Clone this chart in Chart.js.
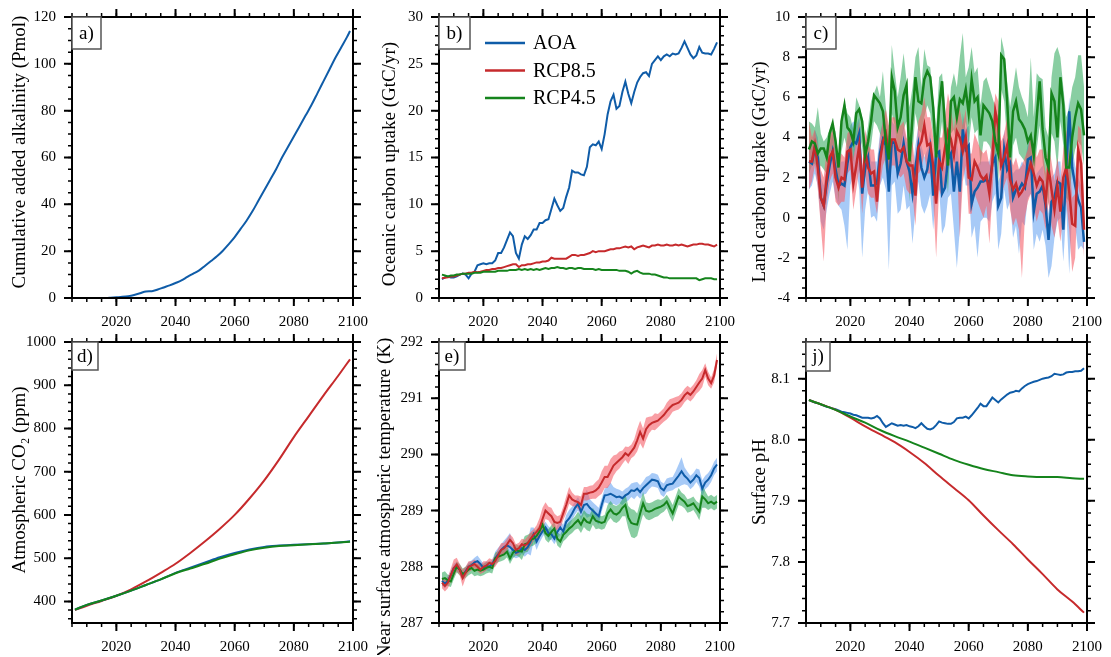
<!DOCTYPE html>
<html>
<head>
<meta charset="utf-8">
<script src="https://cdn.jsdelivr.net/npm/chart.js@4.4.1/dist/chart.umd.min.js"></script>
<style>
  html, body { margin: 0; padding: 0; background: #fff; }
  body { width: 1111px; height: 657px; position: relative; overflow: hidden; }
</style>
</head>
<body>
<script>
// ---- data ----
const years = Array.from({length: 94}, (_, i) => 2006 + i);   // 2006..2099
const xTicks = [2020, 2040, 2060, 2080, 2100];

// a) cumulative added alkalinity (Pmol)
const aYears = [2006, 2010, 2014, 2017, 2018, 2020, 2022, 2024, 2026, 2028, 2030, 2032, 2034, 2036, 2038,
  2040, 2042, 2044, 2046, 2048, 2050, 2052, 2054, 2056, 2058, 2060, 2062, 2064, 2066, 2068, 2070, 2072,
  2074, 2076, 2078, 2080, 2082, 2084, 2086, 2088, 2090, 2092, 2094, 2096, 2098, 2099];
const aAlk = [0, 0, 0, 0, 0.1, 0.3, 0.5, 0.8, 1.3, 2.0, 2.8, 2.9, 3.6, 4.5, 5.4,
  6.4, 7.5, 9.0, 10.4, 11.8, 13.8, 15.8, 17.8, 20.2, 23.0, 26.0, 29.5, 33.0, 37.0, 41.5, 46.0, 50.5,
  55.0, 60.0, 64.5, 69.0, 73.5, 78.0, 82.5, 87.5, 92.5, 97.5, 102.5, 107.0, 111.5, 114.0];
const aTicks = [0, 20, 40, 60, 80, 100, 120];

// b) oceanic carbon uptake (GtC/yr)
const bAoa = [
  2.0, 2.2, 2.3, 2.2, 2.2, 2.3, 2.5, 2.6, 2.5, 2.1,
  2.6, 2.8, 3.5, 3.6, 3.7, 3.6, 3.7, 3.7, 4.0, 4.8,
  4.8, 5.4, 6.2, 7.0, 6.6, 4.8, 4.2, 5.7, 6.6, 6.3,
  6.7, 7.3, 7.3, 8.0, 8.0, 8.3, 8.4, 9.5, 10.6, 9.9,
  9.3, 9.6, 10.8, 11.8, 13.6, 13.4, 13.4, 13.2, 13.1, 14.0,
  16.1, 16.4, 16.3, 16.7, 15.9, 17.5, 19.6, 21.0, 21.7, 20.2,
  20.5, 22.0, 23.1, 21.8, 20.8, 22.0, 23.0, 23.6, 24.0, 24.1,
  23.7, 25.0, 25.4, 25.8, 25.4, 25.8, 26.0, 25.8, 26.1, 26.0,
  26.1, 26.7, 27.4, 26.7, 26.0, 25.6, 25.9, 26.8, 26.2, 26.1,
  26.1, 26.0, 26.6, 27.3];
const bRcp85 = [
  2.1, 2.15, 2.2, 2.3, 2.3, 2.4, 2.5, 2.6, 2.6, 2.7,
  2.7, 2.8, 2.75, 2.8, 2.9, 3.0, 3.0, 3.1, 3.1, 3.2,
  3.2, 3.3, 3.4, 3.5, 3.6, 3.6, 3.3, 3.5, 3.5, 3.6,
  3.6, 3.7, 3.8, 3.8, 3.9, 3.9, 4.0, 4.3, 4.2, 4.2,
  4.2, 4.2, 4.2, 4.4, 4.6, 4.6, 4.5, 4.6, 4.6, 4.7,
  4.8, 5.0, 4.9, 5.0, 5.0, 5.0, 5.1, 5.2, 5.2, 5.3,
  5.3, 5.4, 5.5, 5.4, 5.5, 5.2, 5.4, 5.5, 5.6, 5.5,
  5.4, 5.6, 5.6, 5.7, 5.6, 5.6, 5.7, 5.6, 5.6, 5.7,
  5.6, 5.7, 5.6, 5.5, 5.6, 5.7, 5.7, 5.8, 5.8, 5.7,
  5.7, 5.6, 5.5, 5.7];
const bRcp45 = [
  2.5, 2.4, 2.3, 2.4, 2.4, 2.5, 2.5, 2.6, 2.6, 2.6,
  2.6, 2.7, 2.7, 2.7, 2.8, 2.8, 2.8, 2.8, 2.8, 2.9,
  2.9, 2.9, 2.9, 3.0, 3.0, 3.0, 3.1, 3.0, 3.1, 3.0,
  3.1, 3.0, 3.1, 3.0, 3.1, 3.2, 3.1, 3.2, 3.2, 3.3,
  3.2, 3.2, 3.1, 3.2, 3.2, 3.1, 3.2, 3.2, 3.1, 3.1,
  3.1, 3.1, 3.0, 3.1, 3.0, 3.0, 3.0, 3.0, 3.0, 3.0,
  2.9, 2.9, 2.9, 2.8, 2.6, 2.8, 2.9, 2.7, 2.6, 2.6,
  2.6, 2.5, 2.5, 2.4, 2.3, 2.2, 2.2, 2.1, 2.1, 2.1,
  2.1, 2.1, 2.1, 2.1, 2.1, 2.1, 2.1, 1.9, 2.0, 2.1,
  2.1, 2.1, 2.0, 2.0];
const bTicks = [0, 5, 10, 15, 20, 25, 30];

// c) land carbon uptake (GtC/yr): ensemble mean and spread
const cAoa = [
  2.8, 2.7, 3.5, 3.0, 1.0, 0.6, 1.7, 2.6, 3.3, 2.4,
  1.6, 1.7, 1.6, 2.7, 3.5, 3.8, 3.7, 4.2, 1.2, 2.5,
  3.0, 1.6, 1.6, 1.7, 3.2, 3.9, 3.6, 1.3, 3.8, 3.7,
  2.2, 2.7, 3.7, 2.8, 2.3, 1.2, 2.5, 3.6, 2.5, 2.0,
  2.4, 3.4, 1.1, 3.2, 3.3, 1.2, 1.5, 2.9, 3.2, 1.3,
  2.8, 1.3, 4.4, 3.4, 3.6, 0.7, 1.3, 1.5, 1.8, 1.8,
  1.9, 1.7, 2.7, 3.0, 0.6, 1.0, 3.4, 2.4, 2.7, 1.0,
  1.4, 1.4, 1.7, 1.5, 2.9, 3.0, 0.3, 1.2, 1.3, 1.6,
  0.6, -1.1, 0.8, 1.0, 1.8, 1.7, -0.6, 2.5, 5.3, 2.5,
  1.6, 0.9, 0.5, -1.2];
const cAoaHi = [
  3.8, 3.6, 4.4, 4.0, 2.0, 1.6, 2.6, 3.6, 4.2, 3.4,
  2.6, 2.8, 2.8, 3.8, 4.6, 4.8, 4.6, 5.0, 2.4, 3.6,
  4.0, 2.8, 2.8, 2.8, 4.2, 4.8, 4.6, 2.6, 4.8, 4.6,
  3.2, 3.8, 4.6, 3.8, 3.4, 2.4, 3.6, 4.6, 3.6, 3.0,
  3.4, 4.4, 2.2, 4.2, 4.4, 2.4, 2.6, 4.0, 4.2, 2.4,
  3.8, 2.4, 5.2, 4.4, 4.6, 1.8, 2.4, 2.6, 2.8, 2.8,
  2.8, 2.8, 3.8, 4.0, 1.8, 2.2, 4.4, 3.4, 3.8, 2.2,
  2.4, 2.4, 2.8, 2.6, 3.8, 4.0, 1.4, 2.2, 2.4, 2.6,
  1.6, 0.2, 2.0, 2.2, 2.8, 2.8, 0.6, 3.6, 6.0, 3.6,
  2.6, 2.0, 1.6, 0.2];
const cAoaLo = [
  1.4, 1.6, 2.2, 1.6, -0.2, -0.6, 0.4, 1.2, 1.8, 1.0,
  0.6, 0.4, -0.4, -1.6, 1.6, 2.2, 2.4, 1.4, -2.0, 0.4,
  1.4, 0.0, 0.1, -0.2, 1.6, 2.0, 1.4, -2.6, 1.6, 1.8,
  0.2, 0.4, 1.6, 0.4, 0.6, -1.3, 0.4, 1.8, 0.6, 0.2,
  0.6, 1.2, -0.6, 1.2, 1.4, -0.8, -0.4, 1.0, 1.2, -0.6,
  -2.5, -0.6, 2.6, 1.6, 1.6, -1.0, -0.4, -2.0, -0.2, 0.0,
  0.0, -0.2, 0.8, 1.2, -1.6, -0.8, 1.4, 0.4, 0.8, -1.0,
  -0.4, -1.8, -0.2, -0.4, 1.0, 1.2, -1.6, -0.8, -1.2, -0.6,
  -1.4, -3.0, -2.4, -1.0, -0.2, 0.0, -2.2, 0.4, -2.8, 0.4,
  -0.4, -1.6, -1.4, -1.6];
const cRcp85 = [
  2.8, 2.8, 3.6, 2.5, 1.0, 0.6, 2.0, 3.0, 3.3, 2.0,
  1.5, 2.0, 1.9, 3.3, 3.4, 1.7, 2.6, 3.6, 1.5, 3.3,
  2.5, 2.2, 2.3, 0.8, 2.8, 3.8, 4.2, 3.2, 3.9, 3.9,
  3.4, 3.3, 3.5, 2.8, 2.6, 2.6, 1.1, 3.5, 3.8, 4.6,
  3.6, 3.7, 2.6, 0.7, 2.8, 2.5, 3.5, 4.3, 3.9, 3.1,
  4.3, 4.0, 3.3, 4.0, 2.0, 1.9, 2.8, 2.5, 2.1, 1.9,
  2.1, 1.2, 2.8, 5.3, 4.5, 2.6, 3.0, 3.6, 1.9, 1.4,
  1.7, 1.1, 1.3, 1.6, 2.2, 2.7, 2.2, 1.6, 2.0, 1.8,
  0.8, 2.5, 1.4, 0.4, 1.6, 0.3, 2.0, 2.5, 1.3, -0.3,
  -0.4, 3.4, 2.7, -0.6];
const cRcp85Hi = [
  4.8, 4.0, 4.4, 3.6, 2.4, 2.0, 3.4, 4.0, 4.4, 3.2,
  2.8, 3.2, 3.0, 4.2, 4.4, 3.0, 3.8, 4.8, 2.6, 4.4,
  3.6, 3.4, 3.4, 2.0, 4.0, 4.8, 5.4, 4.6, 5.0, 5.0,
  4.6, 4.6, 4.8, 4.0, 3.8, 3.8, 2.4, 4.8, 5.2, 6.0,
  5.0, 5.0, 4.0, 2.0, 4.0, 4.0, 5.0, 6.2, 5.4, 4.4,
  5.6, 5.4, 4.6, 5.4, 3.2, 3.2, 4.2, 3.8, 3.4, 3.2,
  3.4, 2.6, 4.2, 6.2, 5.8, 3.8, 4.2, 5.0, 3.2, 2.6,
  3.0, 2.4, 2.6, 3.0, 3.4, 4.2, 3.6, 3.0, 3.4, 3.4,
  2.2, 3.6, 2.8, 1.8, 3.0, 1.8, 3.4, 4.4, 3.0, 1.0,
  1.2, 4.6, 4.4, 0.8];
const cRcp85Lo = [
  1.4, 1.8, 2.6, 1.4, -0.4, -2.2, 0.8, 1.8, 2.2, 0.8,
  0.6, 0.8, 0.8, 2.2, 2.4, 0.4, 1.4, 2.4, 0.2, 2.2,
  1.2, 1.0, 1.0, 0.2, 1.6, 2.6, 3.0, 1.8, 2.6, 2.6,
  2.2, 2.0, 2.2, 1.4, 1.2, 1.2, -0.4, 2.2, 2.4, 3.2,
  2.2, 2.2, 1.0, -2.0, 1.4, 1.0, 2.0, 2.8, 2.4, 1.6,
  2.8, -1.0, 1.8, 2.6, 0.2, 0.2, 1.2, 0.8, 0.4, 0.0,
  0.6, -1.3, 1.2, 3.8, 3.0, 1.0, 1.6, 2.0, 0.4, -0.4,
  0.0, -0.6, -3.0, 0.0, 0.8, 1.2, 0.6, -0.2, 0.4, 0.2,
  -0.6, 0.8, -0.4, -1.0, 0.0, -1.2, 0.2, 0.8, -0.6, -2.7,
  -2.0, 1.6, 0.8, -2.0];
const cRcp45 = [
  3.4, 3.8, 3.7, 3.2, 3.45, 3.45, 3.0, 4.2, 4.7, 3.8,
  2.5, 4.8, 5.6, 4.5, 4.3, 3.8, 5.2, 5.4, 4.8, 3.1,
  3.8, 4.8, 6.1, 5.9, 5.7, 5.3, 3.8, 2.9, 7.0, 6.3,
  4.5, 5.0, 6.1, 6.6, 2.8, 5.0, 7.0, 5.8, 5.7, 6.9,
  7.3, 7.0, 5.5, 3.0, 5.5, 6.8, 4.5, 2.6, 5.8, 6.0,
  5.0, 5.9, 5.7, 6.4, 5.2, 6.9, 5.8, 6.0, 4.1, 5.6,
  5.4, 5.2, 4.8, 3.8, 3.2, 8.1, 7.9, 5.8, 3.0, 5.3,
  5.8, 4.9, 4.7, 4.4, 3.8, 4.1, 3.1, 5.0, 6.8, 4.4,
  3.0, 2.5, 6.2, 5.8, 4.0, 7.0, 5.6, 2.5, 2.5, 4.0,
  5.0, 5.7, 5.4, 4.1];
const cRcp45Hi = [
  4.8, 4.7, 4.5, 5.5, 4.2, 3.8, 4.0, 4.4, 4.7, 4.3,
  3.0, 5.0, 5.8, 5.2, 5.0, 4.4, 6.0, 5.6, 5.0, 3.8,
  4.6, 5.8, 6.2, 6.6, 6.0, 7.3, 5.5, 4.0, 8.6, 7.3,
  6.0, 7.0, 8.2, 6.8, 5.5, 6.5, 8.0, 8.5, 6.5, 8.4,
  7.6, 7.5, 6.0, 4.5, 7.0, 7.2, 5.5, 4.0, 6.5, 7.2,
  6.5, 8.0, 9.2, 7.0, 7.5, 8.5, 7.2, 7.5, 5.6, 6.8,
  7.0, 6.5, 6.0, 5.5, 5.0, 9.0, 8.3, 6.8, 5.5, 6.5,
  7.5, 6.5, 6.0, 5.6, 5.0, 8.0, 5.0, 7.2, 7.0, 6.9,
  4.5, 4.0, 7.0, 8.2, 8.5, 8.0, 6.5, 5.0, 5.5, 6.5,
  7.0, 8.1, 8.1, 6.5];
const cRcp45Lo = [
  2.2, 2.6, 2.7, 2.4, 2.6, 2.4, 2.2, 3.2, 3.5, 2.6,
  0.8, 3.3, 4.0, 3.4, 3.3, 2.8, 3.8, 4.2, 3.5, 2.0,
  2.8, 3.6, 4.8, 4.6, 4.2, 3.8, 2.4, 1.8, 5.2, 4.6,
  3.2, 3.6, 4.4, 4.8, 0.8, 3.2, 5.2, 4.4, 4.2, 5.0,
  5.6, 5.2, 4.0, 1.8, 3.6, 4.8, 3.0, 1.2, 4.2, 4.4,
  3.6, 4.2, 3.8, 4.8, 3.6, 5.0, 4.2, 4.4, 2.6, 3.8,
  3.8, 3.6, 3.2, 2.4, 1.6, 6.4, 5.8, 3.8, 0.6, 3.6,
  4.0, 3.2, 3.0, 2.8, 2.2, 2.8, 1.6, 3.4, 4.6, 2.8,
  1.6, 0.6, 4.2, 3.8, 2.4, 4.8, 3.6, 1.0, 0.8, 2.6,
  3.4, 3.8, 3.6, 2.6];
const cTicks = [-4, -2, 0, 2, 4, 6, 8, 10];

// d) atmospheric CO2 (ppm)
const dYears = [2006, 2010, 2015, 2020, 2025, 2030, 2035, 2040, 2045, 2050, 2055, 2060, 2065, 2070, 2075, 2080, 2085, 2090, 2095, 2099];
const dAoa   = [381, 392, 402, 413, 425, 438, 451, 466, 478, 490, 502, 512, 520, 526, 529, 531, 532, 534, 536, 539];
const dRcp85 = [380, 390, 401, 413, 428, 446, 466, 487, 512, 539, 568, 600, 638, 680, 728, 780, 828, 876, 922, 960];
const dRcp45 = [381, 392, 402, 413, 425, 438, 451, 465, 476, 487, 499, 509, 518, 524, 528, 530, 532, 534, 536, 538];
const dTicks = [400, 500, 600, 700, 800, 900, 1000];

// e) near surface atmospheric temperature (K): mean and half spread
const eAoa = [
  287.75, 287.7, 287.75, 287.85, 287.98, 288.0, 287.95, 287.85, 287.92, 288.0,
  288.03, 288.08, 288.1, 288.05, 287.98, 288.02, 288.0, 288.05, 288.15, 288.22,
  288.3, 288.35, 288.38, 288.35, 288.3, 288.25, 288.27, 288.33, 288.3, 288.35,
  288.45, 288.58, 288.45, 288.55, 288.63, 288.7, 288.6, 288.58, 288.5, 288.62,
  288.7, 288.63, 288.8, 288.86, 288.95, 289.05, 289.12, 288.98, 289.1, 289.12,
  289.05, 289.0, 288.95, 288.9, 289.1, 289.27, 289.28, 289.3, 289.27, 289.24,
  289.25, 289.22, 289.27, 289.3, 289.36, 289.35, 289.39, 289.33, 289.4, 289.45,
  289.5, 289.55, 289.54, 289.52, 289.4, 289.36, 289.45, 289.47, 289.48, 289.55,
  289.62, 289.7, 289.62, 289.57, 289.5, 289.55, 289.63, 289.58, 289.39, 289.5,
  289.55, 289.63, 289.75, 289.82];
const eRcp85 = [
  287.72, 287.66, 287.72, 287.85, 287.98, 288.04, 287.95, 287.8, 287.9, 288.0,
  288.02, 288.05, 288.0, 287.95, 288.0, 288.02, 288.07, 288.05, 288.1, 288.2,
  288.3, 288.33, 288.4, 288.48, 288.42, 288.3, 288.33, 288.4, 288.38, 288.42,
  288.5, 288.57, 288.62, 288.69, 288.85, 289.0, 288.95, 288.9, 288.8, 288.78,
  288.8, 288.95, 289.1, 289.27, 289.2, 289.17, 289.15, 289.1, 289.3, 289.3,
  289.32, 289.33, 289.36, 289.41, 289.5, 289.6, 289.6, 289.7, 289.8, 289.85,
  289.9, 289.95, 290.02, 289.98, 290.05, 290.12, 290.25, 290.4, 290.28, 290.45,
  290.52, 290.56, 290.58, 290.6, 290.65, 290.7, 290.77, 290.83, 290.88, 290.9,
  290.92, 290.97, 291.05, 291.1, 291.06, 291.12, 291.2, 291.28, 291.35, 291.5,
  291.35, 291.27, 291.4, 291.68];
const eRcp45 = [
  287.78, 287.8, 287.76, 287.74, 287.88, 288.0, 287.95, 287.87, 287.9, 287.95,
  287.98, 287.93, 287.95, 287.93, 287.95, 287.98, 288.0, 287.98, 288.15, 288.18,
  288.2, 288.22, 288.27, 288.15, 288.25, 288.3, 288.28, 288.27, 288.4, 288.42,
  288.48, 288.5, 288.55, 288.63, 288.75, 288.6, 288.55, 288.62, 288.68, 288.5,
  288.45, 288.57, 288.62, 288.68, 288.72, 288.78, 288.83, 288.75, 288.86, 288.8,
  288.78, 288.9, 288.82, 288.8, 288.78, 288.8, 288.95, 289.02, 288.95, 288.93,
  288.97, 289.05, 289.1, 288.88, 288.78, 288.76, 288.75, 288.95, 289.13, 289.0,
  288.98, 289.0, 289.03, 289.05, 289.07, 289.1, 289.16, 289.05, 288.95, 289.1,
  289.25, 289.2, 289.16, 289.08, 289.1, 289.13, 289.05, 288.98, 289.25, 289.2,
  289.13, 289.16, 289.12, 289.16];
const eAoaSpread = [
  0.08, 0.08, 0.08, 0.08, 0.08, 0.08, 0.08, 0.08, 0.08, 0.08,
  0.08, 0.08, 0.1, 0.08, 0.08, 0.08, 0.08, 0.08, 0.12, 0.12,
  0.1, 0.12, 0.15, 0.25, 0.12, 0.1, 0.1, 0.1, 0.12, 0.12,
  0.25, 0.12, 0.15, 0.12, 0.1, 0.1, 0.12, 0.1, 0.1, 0.12,
  0.12, 0.12, 0.12, 0.15, 0.12, 0.12, 0.12, 0.15, 0.15, 0.25,
  0.15, 0.15, 0.15, 0.15, 0.12, 0.12, 0.15, 0.2, 0.15, 0.15,
  0.12, 0.12, 0.12, 0.12, 0.12, 0.15, 0.12, 0.12, 0.12, 0.15,
  0.12, 0.12, 0.12, 0.12, 0.12, 0.12, 0.12, 0.12, 0.12, 0.15,
  0.2, 0.25, 0.15, 0.12, 0.12, 0.12, 0.12, 0.15, 0.15, 0.12,
  0.12, 0.12, 0.12, 0.12];
const eRcp85Spread = [
  0.1, 0.1, 0.1, 0.12, 0.15, 0.12, 0.1, 0.15, 0.1, 0.1,
  0.08, 0.08, 0.08, 0.08, 0.1, 0.08, 0.08, 0.08, 0.1, 0.12,
  0.12, 0.1, 0.1, 0.1, 0.1, 0.1, 0.1, 0.1, 0.1, 0.12,
  0.12, 0.1, 0.12, 0.18, 0.2, 0.15, 0.12, 0.15, 0.15, 0.12,
  0.12, 0.12, 0.15, 0.15, 0.12, 0.1, 0.12, 0.15, 0.12, 0.12,
  0.12, 0.12, 0.15, 0.15, 0.2, 0.2, 0.2, 0.22, 0.18, 0.15,
  0.15, 0.12, 0.12, 0.15, 0.12, 0.15, 0.2, 0.2, 0.18, 0.2,
  0.15, 0.12, 0.15, 0.12, 0.12, 0.12, 0.15, 0.15, 0.12, 0.12,
  0.12, 0.12, 0.12, 0.12, 0.12, 0.12, 0.12, 0.15, 0.15, 0.12,
  0.12, 0.1, 0.12, 0.12];
const eRcp45Spread = [
  0.12, 0.12, 0.1, 0.1, 0.1, 0.1, 0.1, 0.1, 0.1, 0.1,
  0.1, 0.1, 0.1, 0.1, 0.1, 0.1, 0.1, 0.1, 0.1, 0.1,
  0.1, 0.1, 0.1, 0.1, 0.1, 0.1, 0.1, 0.15, 0.15, 0.15,
  0.12, 0.12, 0.12, 0.12, 0.1, 0.12, 0.12, 0.12, 0.12, 0.12,
  0.12, 0.12, 0.12, 0.12, 0.12, 0.12, 0.15, 0.15, 0.15, 0.15,
  0.15, 0.15, 0.15, 0.12, 0.12, 0.12, 0.15, 0.15, 0.15, 0.15,
  0.15, 0.15, 0.2, 0.2, 0.25, 0.25, 0.2, 0.2, 0.2, 0.15,
  0.15, 0.15, 0.15, 0.15, 0.12, 0.12, 0.12, 0.15, 0.15, 0.15,
  0.15, 0.12, 0.12, 0.12, 0.12, 0.12, 0.12, 0.15, 0.2, 0.15,
  0.12, 0.12, 0.12, 0.12];
const eTicks = [287, 288, 289, 290, 291, 292];

// j) surface pH
const jYears = [2006, 2010, 2015, 2020, 2025, 2030, 2035, 2040, 2045, 2050, 2055, 2060, 2065, 2070, 2075, 2080, 2085, 2090, 2095, 2099];
const jRcp85 = [8.065, 8.058, 8.049, 8.036, 8.022, 8.009, 7.996, 7.980, 7.962, 7.941, 7.921, 7.901, 7.876, 7.852, 7.829, 7.804, 7.780, 7.755, 7.735, 7.717];
const jRcp45 = [8.065, 8.058, 8.049, 8.038, 8.028, 8.016, 8.006, 7.997, 7.987, 7.977, 7.967, 7.959, 7.952, 7.947, 7.942, 7.940, 7.939, 7.939, 7.937, 7.936];
const jAoa = [
  8.065, 8.063, 8.061, 8.060, 8.058, 8.056, 8.054, 8.053, 8.051, 8.050,
  8.048, 8.046, 8.045, 8.044, 8.043, 8.041, 8.040, 8.038, 8.036, 8.036,
  8.036, 8.035, 8.036, 8.039, 8.035, 8.027, 8.021, 8.024, 8.027, 8.025,
  8.023, 8.024, 8.023, 8.024, 8.022, 8.021, 8.019, 8.022, 8.027, 8.022,
  8.018, 8.017, 8.019, 8.024, 8.030, 8.028, 8.027, 8.026, 8.026, 8.029,
  8.035, 8.036, 8.036, 8.038, 8.035, 8.040, 8.046, 8.052, 8.059, 8.055,
  8.055, 8.062, 8.069, 8.065, 8.061, 8.066, 8.070, 8.074, 8.077, 8.078,
  8.080, 8.079, 8.084, 8.088, 8.091, 8.093, 8.095, 8.096, 8.098, 8.100,
  8.101, 8.102, 8.104, 8.108, 8.107, 8.106, 8.107, 8.110, 8.111, 8.111,
  8.112, 8.112, 8.113, 8.117];
const jTicks = [7.7, 7.8, 7.9, 8.0, 8.1];

// ---- styling ----
const FONT = '"Liberation Serif", "Times New Roman", serif';
const BLUE = '#0f5ca8', RED = '#c62a2c', GREEN = '#15841c';
const BAND_BLUE = 'rgba(80,150,240,0.5)';
const BAND_RED = 'rgba(245,95,105,0.6)';
const BAND_GREEN = 'rgba(40,165,85,0.55)';

const W = 283, H = 285, AXW = 72, PADT = 13, PADR = 20, AXH = 32;

function pts(xs, ys) { return xs.map((x, i) => ({x, y: ys[i]})); }
function line(label, xs, ys, color, order, width) {
  return {label, data: pts(xs, ys), borderColor: color, borderWidth: width || 2,
    pointRadius: 0, fill: false, tension: 0, order};
}
// smooth curve through sparse readings (panels a, d, j)
function curve(label, xs, ys, color, order) {
  return Object.assign(line(label, xs, ys, color, order), {cubicInterpolationMode: 'monotone'});
}
function band(xs, lo, hi, color, order) {
  return [
    {label: '', data: pts(xs, lo), borderColor: 'rgba(0,0,0,0)', borderWidth: 0, pointRadius: 0, fill: false, order},
    {label: '', data: pts(xs, hi), borderColor: 'rgba(0,0,0,0)', borderWidth: 0, pointRadius: 0,
      backgroundColor: color, fill: '-1', order}
  ];
}
function steps(min, max, step) {
  const out = [];
  for (let k = Math.ceil(min / step - 1e-9); k <= Math.floor(max / step + 1e-9); k++) out.push(k * step);
  return out;
}

// frame with outward major/minor ticks on all four sides
const frame = {
  id: 'frame',
  afterDraw(chart, args, o) {
    const {ctx, chartArea: a, scales} = chart;
    ctx.save();
    ctx.strokeStyle = '#000';
    const tick = (scale, vals, len, lw, horiz) => {
      ctx.lineWidth = lw;
      ctx.beginPath();
      vals.forEach(v => {
        const p = scale.getPixelForValue(v);
        if (horiz) {
          ctx.moveTo(p, a.bottom); ctx.lineTo(p, a.bottom + len);
          ctx.moveTo(p, a.top); ctx.lineTo(p, a.top - len);
        } else {
          ctx.moveTo(a.left, p); ctx.lineTo(a.left - len, p);
          ctx.moveTo(a.right, p); ctx.lineTo(a.right + len, p);
        }
      });
      ctx.stroke();
    };
    const sx = scales.x, sy = scales.y;
    tick(sx, steps(sx.min, sx.max, o.xMinor), 4, 1.5, true);
    tick(sx, o.xMajor, 8, 2, true);
    tick(sy, steps(sy.min, sy.max, o.yMinor), 4, 1.5, false);
    tick(sy, o.yMajor, 8, 2, false);
    ctx.lineWidth = 2;
    ctx.strokeRect(a.left, a.top, a.right - a.left, a.bottom - a.top);
    ctx.restore();
  }
};

// y-axis title, placed where it sits in the figure
const ylab = {
  id: 'ylab',
  afterDraw(chart, args, o) {
    const ctx = chart.ctx;
    ctx.save();
    ctx.translate(o.x, o.y);
    ctx.rotate(-Math.PI / 2);
    ctx.font = o.size + 'px ' + FONT;
    ctx.fillStyle = '#000';
    ctx.textAlign = 'center';
    ctx.textBaseline = 'middle';
    ctx.fillText(o.text, 0, 0);
    ctx.restore();
  }
};

// boxed panel letter
const tag = {
  id: 'tag',
  afterDraw(chart, args, o) {
    const {ctx, chartArea: a} = chart;
    ctx.save();
    ctx.fillStyle = '#fff';
    ctx.fillRect(a.left, a.top, o.w, o.h);
    ctx.strokeStyle = '#555';
    ctx.lineWidth = 1.5;
    ctx.strokeRect(a.left, a.top, o.w, o.h);
    ctx.font = '19px ' + FONT;
    ctx.fillStyle = '#000';
    ctx.textAlign = 'center';
    ctx.textBaseline = 'middle';
    ctx.fillText(o.text, a.left + o.w / 2, a.top + o.h / 2 + 1);
    ctx.restore();
  }
};

// legend drawn inside panel b
const inlegend = {
  id: 'inlegend',
  afterDraw(chart, args, o) {
    if (!o.show) return;
    const ctx = chart.ctx;
    const items = chart.data.datasets.filter(d => d.label);
    items.sort((p, q) => o.order.indexOf(p.label) - o.order.indexOf(q.label));
    ctx.save();
    ctx.font = o.size + 'px ' + FONT;
    ctx.textBaseline = 'middle';
    ctx.textAlign = 'left';
    items.forEach((d, i) => {
      const y = o.y0 + i * o.dy;
      ctx.strokeStyle = d.borderColor;
      ctx.lineWidth = 2.5;
      ctx.beginPath();
      ctx.moveTo(o.x0, y); ctx.lineTo(o.x1, y);
      ctx.stroke();
      ctx.fillStyle = '#000';
      ctx.fillText(d.label, o.tx, y + 1);
    });
    ctx.restore();
  }
};

function makePanel(p) {
  const cv = document.createElement('canvas');
  const cl = p.left - AXW, ct = p.top - PADT;
  cv.width = AXW + W + PADR;
  cv.height = PADT + H + AXH;
  cv.style.cssText = 'position:absolute;left:' + cl + 'px;top:' + ct + 'px;width:' + cv.width + 'px;height:' + cv.height + 'px';
  document.body.appendChild(cv);
  const tickFont = {family: FONT, size: 15};
  new Chart(cv, {
    type: 'line',
    data: {datasets: p.datasets},
    plugins: [frame, ylab, tag, inlegend],
    options: {
      responsive: false,
      animation: false,
      events: [],
      layout: {padding: {top: PADT, right: PADR, left: 0, bottom: 0}, autoPadding: false},
      plugins: {
        legend: {display: false},
        tooltip: {enabled: false},
        frame: {xMinor: 5, xMajor: xTicks, yMinor: p.yMinor, yMajor: p.yTicks},
        ylab: {text: p.title, x: p.tx - cl, y: p.ty - ct, size: 19},
        tag: {text: p.tag, w: p.tagW, h: p.tagH},
        inlegend: p.legend ? Object.assign({show: true}, p.legend, {x0: p.legend.x0 - cl, x1: p.legend.x1 - cl, tx: p.legend.tx - cl, y0: p.legend.y0 - ct}) : {show: false}
      },
      scales: {
        x: {
          type: 'linear', min: 2005, max: 2100,
          afterBuildTicks: s => { s.ticks = xTicks.map(v => ({value: v})); },
          afterFit: s => { s.height = AXH; },
          grid: {display: false, drawTicks: true, tickLength: 8},
          border: {display: false},
          ticks: {font: tickFont, color: '#000', padding: 7, maxRotation: 0, autoSkip: false,
            callback: v => String(v)}
        },
        y: {
          type: 'linear', min: p.yMin, max: p.yMax,
          afterBuildTicks: s => { s.ticks = p.yTicks.map(v => ({value: v})); },
          afterFit: s => { s.width = AXW; },
          grid: {display: false, drawTicks: true, tickLength: 8},
          border: {display: false},
          ticks: {font: tickFont, color: '#000', padding: 8, autoSkip: false,
            callback: v => p.dec ? Number(v).toFixed(p.dec) : String(v)}
        }
      }
    }
  });
}

const panels = [
  {left: 72, top: 13, tag: 'a)', tagW: 29, tagH: 32, yMin: 0, yMax: 120, yTicks: aTicks, yMinor: 5,
    title: 'Cumulative added alkalinity (Pmol)', tx: 20, ty: 152,
    datasets: [curve('AOA', aYears, aAlk, BLUE, 0)]},
  {left: 439, top: 13, tag: 'b)', tagW: 31, tagH: 32, yMin: 0, yMax: 30, yTicks: bTicks, yMinor: 1,
    title: 'Oceanic carbon uptake (GtC/yr)', tx: 390, ty: 164,
    legend: {order: ['AOA', 'RCP8.5', 'RCP4.5'], x0: 485, x1: 525, tx: 533, y0: 43, dy: 27.5, size: 20},
    datasets: [
      line('RCP4.5', years, bRcp45, GREEN, 0),
      line('RCP8.5', years, bRcp85, RED, 1),
      line('AOA', years, bAoa, BLUE, 2)
    ]},
  {left: 806, top: 13, tag: 'c)', tagW: 30, tagH: 32, yMin: -4, yMax: 10, yTicks: cTicks, yMinor: 0.5,
    title: 'Land carbon uptake (GtC/yr)', tx: 760, ty: 172,
    datasets: [
      line('', years, cRcp45, GREEN, 0, 2.5),
      line('', years, cRcp85, RED, 1, 2.5),
      line('', years, cAoa, BLUE, 2, 2.5),
      ...band(years, cRcp85Lo, cRcp85Hi, BAND_RED, 3),
      ...band(years, cRcp45Lo, cRcp45Hi, BAND_GREEN, 4),
      ...band(years, cAoaLo, cAoaHi, BAND_BLUE, 5)
    ]},
  {left: 72, top: 338, tag: 'd)', tagW: 26, tagH: 28, yMin: 350, yMax: 1000, yTicks: dTicks, yMinor: 20,
    title: 'Atmospheric CO\u2082 (ppm)', tx: 20, ty: 480,
    datasets: [
      curve('', dYears, dRcp45, GREEN, 0),
      curve('', dYears, dAoa, BLUE, 1),
      curve('', dYears, dRcp85, RED, 2)
    ]},
  {left: 439, top: 338, tag: 'e)', tagW: 26, tagH: 28, yMin: 287, yMax: 292, yTicks: eTicks, yMinor: 0.2,
    title: 'Near surface atmospheric temperature (K)', tx: 385, ty: 498,
    datasets: [
      line('', years, eRcp85, RED, 0),
      line('', years, eRcp45, GREEN, 1),
      line('', years, eAoa, BLUE, 2),
      ...band(years, eRcp85.map((v, i) => v - eRcp85Spread[i]), eRcp85.map((v, i) => v + eRcp85Spread[i]), BAND_RED, 3),
      ...band(years, eRcp45.map((v, i) => v - eRcp45Spread[i]), eRcp45.map((v, i) => v + eRcp45Spread[i]), BAND_GREEN, 4),
      ...band(years, eAoa.map((v, i) => v - eAoaSpread[i]), eAoa.map((v, i) => v + eAoaSpread[i]), BAND_BLUE, 5)
    ]},
  {left: 806, top: 338, tag: 'j)', tagW: 24, tagH: 29, yMin: 7.7, yMax: 8.16, yTicks: jTicks, yMinor: 0.02, dec: 1,
    title: 'Surface pH', tx: 760, ty: 482,
    datasets: [
      curve('', jYears, jRcp45, GREEN, 0),
      curve('', jYears, jRcp85, RED, 1),
      line('', years, jAoa, BLUE, 2)
    ]}
];

panels.forEach(makePanel);
</script>
</body>
</html>
